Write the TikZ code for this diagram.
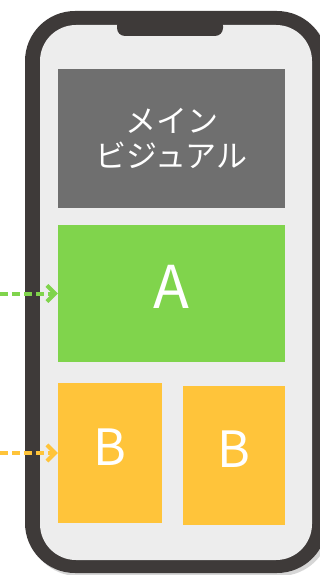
\documentclass[tikz,border=0pt]{standalone}
\usepackage{xcolor}
\usepackage{fontspec}
\newfontfamily\jpfont{Noto Sans CJK JP}
\usetikzlibrary{arrows.meta}

\definecolor{phoneframe}{HTML}{3E3A39}
\definecolor{phonescreen}{HTML}{EDEDED}
\definecolor{visualgray}{HTML}{6F6F6F}
\definecolor{boxgreen}{HTML}{80D44C}
\definecolor{boxorange}{HTML}{FFC43A}

\begin{document}
\begin{tikzpicture}[x=1pt, y=-1pt,
	block/.style={inner sep=0pt, text=white, align=center},
	flow/.style={-{Straight Barb[length=8pt, width=16pt]}, line width=4pt, dash pattern=on 8pt off 4pt}]
	\useasboundingbox (0,0) rectangle (320,575);
	% phone body
	\fill[black!40, opacity=0.4, rounded corners=50pt] (28,14) rectangle (330,576);
	\fill[phoneframe, rounded corners=50pt] (25,11) rectangle (327,573);
	\fill[phonescreen, rounded corners=36pt] (40,25) rectangle (312,560);
	\fill[phoneframe, rounded corners=8pt] (117,18) -- (117,36) -- (223,36) -- (223,18) -- cycle;
	% screen blocks
	\node[block, fill=visualgray, minimum width=227pt, minimum height=139pt, font=\jpfont\fontsize{31}{35}\selectfont] (mv) at (171.5,138.5) {メイン\\ビジュアル};
	\node[block, fill=boxgreen, minimum width=227pt, minimum height=137pt, text depth=14pt, font=\jpfont\fontsize{59}{60}\selectfont] (a) at (171.5,293.5) {A};
	\node[block, fill=boxorange, minimum width=104pt, minimum height=140pt, text depth=12pt, font=\jpfont\fontsize{50}{52}\selectfont] (b1) at (110,453) {B};
	\node[block, fill=boxorange, minimum width=102pt, minimum height=139pt, text depth=12pt, font=\jpfont\fontsize{50}{52}\selectfont] (b2) at (234,455.5) {B};
	% incoming flows
	\coordinate (ina) at (0,293.5);
	\coordinate (inb) at (0,453);
	\draw[flow, boxgreen] (ina) -- (a.west);
	\draw[flow, boxorange] (inb) -- (b1.west);
\end{tikzpicture}
\end{document}
